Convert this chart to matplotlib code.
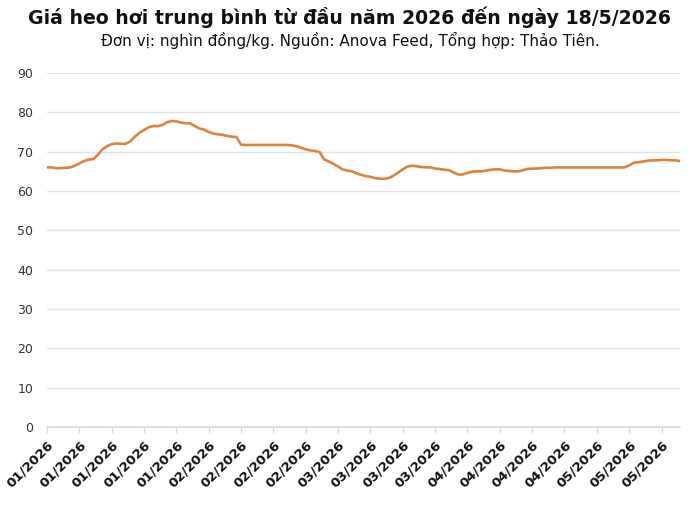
import matplotlib
matplotlib.use("Agg")
import matplotlib.pyplot as plt
import numpy as np

title = "Giá heo hơi trung bình từ đầu năm 2026 đến ngày 18/5/2026"
subtitle = "Đơn vị: nghìn đồng/kg. Nguồn: Anova Feed, Tổng hợp: Thảo Tiên."

prices = [
    66.0, 66.0, 65.8, 65.8, 65.9, 66.0, 66.4, 67.0, 67.6, 68.0,
    68.1, 69.2, 70.6, 71.4, 71.9, 72.1, 72.0, 72.0, 72.6, 73.8,
    74.8, 75.5, 76.2, 76.5, 76.5, 76.8, 77.5, 77.8, 77.7, 77.4,
    77.2, 77.2, 76.5, 75.9, 75.6, 75.0, 74.6, 74.4, 74.3, 74.0,
    73.8, 73.7, 71.8, 71.7, 71.7, 71.7, 71.7, 71.7, 71.7, 71.7,
    71.7, 71.7, 71.7, 71.6, 71.4, 71.0, 70.6, 70.3, 70.2, 69.9,
    68.0, 67.5, 66.9, 66.2, 65.5, 65.2, 65.0, 64.5, 64.1, 63.8,
    63.6, 63.3, 63.1, 63.1, 63.3, 63.9, 64.7, 65.5, 66.2, 66.4,
    66.3, 66.1, 66.0, 66.0, 65.7, 65.6, 65.4, 65.3, 64.7, 64.2,
    64.2, 64.6, 64.9, 65.0, 65.0, 65.2, 65.4, 65.5, 65.5, 65.2,
    65.1, 65.0, 65.0, 65.3, 65.6, 65.7, 65.7, 65.8, 65.9, 65.9,
    66.0, 66.0, 66.0, 66.0, 66.0, 66.0, 66.0, 66.0, 66.0, 66.0,
    66.0, 66.0, 66.0, 66.0, 66.0, 66.0, 66.5, 67.2, 67.3, 67.5,
    67.7, 67.8, 67.8, 67.9, 67.9, 67.8, 67.8, 67.6,
]

tick_labels = [
    "01/2026", "01/2026", "01/2026", "01/2026", "01/2026",
    "02/2026", "02/2026", "02/2026", "02/2026",
    "03/2026", "03/2026", "03/2026", "03/2026",
    "04/2026", "04/2026", "04/2026", "04/2026",
    "05/2026", "05/2026", "05/2026",
]
tick_step = 7
y_ticks = [0, 10, 20, 30, 40, 50, 60, 70, 80, 90]

plt.rcParams['font.family'] = ['DejaVu Sans']

fig = plt.figure(figsize=(7.0, 5.19), dpi=100)
ax = fig.add_axes([47/700, 92/519, (680-47)/700, (427-73)/519])

x = np.arange(len(prices))
ax.plot(x, prices, color='#DF8240', linewidth=1.9, solid_joinstyle='round')

ax.set_xlim(0, len(prices) - 1)
ax.set_ylim(0, 90)
ax.set_yticks(y_ticks)
ax.set_yticklabels([str(v) for v in y_ticks], fontsize=9, color='#333333')
ax.yaxis.grid(True, color='#E3E3E3', linewidth=1.0)
ax.set_axisbelow(True)

tick_pos = [i * tick_step for i in range(len(tick_labels))]
ax.set_xticks(tick_pos)
ax.set_xticklabels(tick_labels, rotation=45, ha='right', va='top',
                   rotation_mode='anchor', fontsize=9.5, fontweight='bold',
                   color='#111111')

for s in ['top', 'right', 'left']:
    ax.spines[s].set_visible(False)
ax.spines['bottom'].set_color('#DADADA')
ax.spines['bottom'].set_linewidth(1.2)
ax.tick_params(axis='y', length=0, pad=10)
ax.tick_params(axis='x', length=4, color='#DADADA', width=1, pad=4)

fig.text(0.5, 1 - 17/519, title, ha='center', va='center',
         fontsize=13.6, fontweight='bold', color='#111111')
fig.text(0.5, 1 - 40/519, subtitle, ha='center', va='center',
         fontsize=11, color='#111111')

fig.savefig("out.png", dpi=100)
